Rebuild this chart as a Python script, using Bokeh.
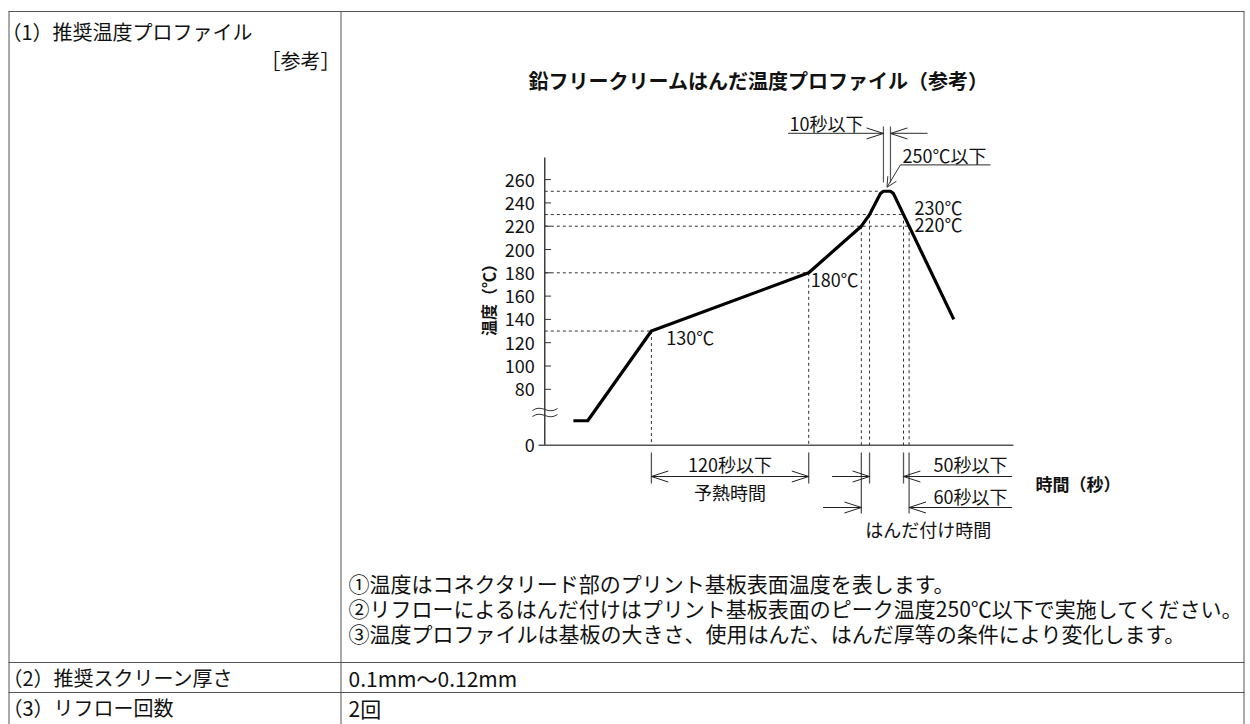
import numpy as np
from bokeh.plotting import figure
from bokeh.models import Range1d, Arrow, OpenHead
from bokeh.core.properties import value
from bokeh.embed import file_html
from bokeh.resources import INLINE

# ---------------- data ----------------
profile_time = [22, 33, 82, 203, 243.5, 249.8, 258.2, 260.5, 265.9, 268.2, 314.6]   # s (schematic)
profile_temp = [53, 53, 130, 180, 220, 230, 248, 250, 250, 248, 140]                # degC (start drawn below break)
y_tick_values = [80, 100, 120, 140, 160, 180, 200, 220, 240, 260]
y_tick_labels = [str(v) for v in y_tick_values]
axis_zero_pos = 32          # where "0" sits below the axis break
guide_temps = [130, 180, 220, 230, 250]
point_labels = ["130℃", "180℃", "230℃", "220℃"]
title_text = "鉛フリークリームはんだ温度プロファイル（参考）"
notes = ["①温度はコネクタリード部のプリント基板表面温度を表します。",
         "②リフローによるはんだ付けはプリント基板表面のピーク温度250℃以下で実施してください。",
         "③温度プロファイルは基板の大きさ、使用はんだ、はんだ厚等の条件により変化します。"]
row_heads = ["（1）推奨温度プロファイル", "（2）推奨スクリーン厚さ", "（3）リフロー回数"]
row_values = ["0.1mm～0.12mm", "2回"]
dim_labels = ["120秒以下", "予熱時間", "50秒以下", "60秒以下", "はんだ付け時間", "10秒以下", "250℃以下"]

# key times derived from the profile
t130, t180 = profile_time[2], profile_time[3]
t220_up, t230_up = profile_time[4], profile_time[5]
desc_T = [profile_temp[-1], profile_temp[-2]]
desc_t = [profile_time[-1], profile_time[-2]]
t230_dn = float(np.interp(230, desc_T, desc_t))
t220_dn = float(np.interp(220, desc_T, desc_t))
t250_l, t250_r = profile_time[7], profile_time[8]
guide_ends = [t130, t180, t220_dn, t230_dn, profile_time[6]]

# ---------------- figure ----------------
W, H = 1250, 724
FONT = "Noto Sans CJK JP"
p = figure(width=W, height=H, x_range=Range1d(0, W), y_range=Range1d(H, 0),
           output_backend="svg", toolbar_location=None, min_border=0,
           x_axis_location=None, y_axis_location=None)
p.grid.visible = False
p.outline_line_color = None
p.background_fill_color = "white"

PX_S, PX_C = 1.3, 1.165
ox, oy180 = 544.3, 272.3
p.extra_x_ranges = {"t": Range1d(-ox / PX_S, (W - ox) / PX_S)}
p.extra_y_ranges = {"T": Range1d(180 - (H - oy180) / PX_C, 180 + oy180 / PX_C)}

def txt(x, y, s, size="18px", align="left", bold=False, xr="default", yr="default",
        angle=0, baseline="middle", color="#111111"):
    p.text(x=[x], y=[y], text=[s], text_font=value(FONT), text_font_size=size,
           text_align=align, text_baseline=baseline,
           text_font_style="bold" if bold else "normal",
           x_range_name=xr, y_range_name=yr, angle=angle, text_color=color)

# ---------------- table ----------------
TL = "#555555"
p.segment(x0=[8, 8.5, 1243.5, 340.5, 8, 8], y0=[11, 11, 11, 11, 662, 692],
          x1=[1244, 8.5, 1243.5, 340.5, 1244, 1244], y1=[11, 724, 724, 724, 662, 692],
          line_color=TL, line_width=1)
txt(1, 31, row_heads[0], "20px")
txt(340, 60, "［参考］", "20px", align="right")
txt(758, 80, title_text, "20px", align="center", bold=True)
for i, n in enumerate(notes):
    txt(348, 582 + 25 * i, n, "21px")
txt(2, 677, row_heads[1], "20px")
txt(348, 677, row_values[0], "21px")
txt(2, 707, row_heads[2], "20px")
txt(348, 707, row_values[1], "21px")

# ---------------- chart axes ----------------
p.segment(x0=[0], y0=[axis_zero_pos], x1=[0], y1=[279], line_color="#111111", line_width=1.2,
          x_range_name="t", y_range_name="T")
p.segment(x0=[-4.8], y0=[axis_zero_pos], x1=[360.5], y1=[axis_zero_pos], line_color="#555555",
          line_width=1.4, x_range_name="t", y_range_name="T")
p.segment(x0=[0] * len(y_tick_values), y0=y_tick_values, x1=[4.8] * len(y_tick_values),
          y1=y_tick_values, line_color="#333333", line_width=1, x_range_name="t", y_range_name="T")
p.text(x=[-7.7] * (len(y_tick_values) + 1), y=y_tick_values + [axis_zero_pos],
       text=y_tick_labels + ["0"], text_font=value(FONT), text_font_size="18px",
       text_align="right", text_baseline="middle", text_color="#111111",
       x_range_name="t", y_range_name="T")
# axis break mark
for yy in [409, 415]:
    p.bezier(x0=[-9.5], y0=[yy + 1], x1=[9.8], y1=[yy - 1], cx0=[-2], cy0=[yy - 6],
             cx1=[2], cy1=[yy + 6], line_color="#333333", line_width=1,
             x_range_name="t")
txt(-44, 160, "温度（℃）", "16px", bold=True, xr="t", yr="T", angle=np.pi / 2, align="center")
txt(377.5, 482.5, "時間（秒）", "17px", bold=True, xr="t")

# ---------------- dashed guides ----------------
p.segment(x0=[0] * len(guide_temps), y0=guide_temps, x1=guide_ends, y1=guide_temps,
          line_color="#333333", line_width=1, line_dash="3 3", x_range_name="t", y_range_name="T")
vt = [t130, t180, t220_up, t230_up, t230_dn, t220_dn]
vT = [130, 180, 220, 230, 230, 220]
p.segment(x0=vt, y0=vT, x1=vt, y1=[axis_zero_pos] * len(vt), line_color="#333333",
          line_width=1, line_dash="3 3", x_range_name="t", y_range_name="T")

# ---------------- profile ----------------
p.line(profile_time, profile_temp, line_color="#000000", line_width=3.2, line_join="round",
       x_range_name="t", y_range_name="T")

# ---------------- dimension marks ----------------
DL = "#222222"
AH_T, AH_Y = 13.0, 5.5   # arrowhead length (time units) and half-spread (px)

def head(t_tip, y, direction, yr="default", dy=AH_Y):
    # direction +1: pointing right (arms to the left); -1: pointing left
    p.segment(x0=[t_tip, t_tip], y0=[y, y], x1=[t_tip - direction * AH_T] * 2,
              y1=[y - dy, y + dy], line_color=DL, line_width=1, x_range_name="t", y_range_name=yr)

# extension lines below axis
p.segment(x0=[t130, t180, t230_up, t230_dn, t220_up, t220_dn],
          y0=[452] * 6, x1=[t130, t180, t230_up, t230_dn, t220_up, t220_dn],
          y1=[483, 483, 483, 483, 513, 513], line_color="#555555", line_width=1.3, x_range_name="t")
# 120 s preheat
p.segment(x0=[t130], y0=[476], x1=[t180], y1=[476], line_color=DL, line_width=1, x_range_name="t")
head(t130, 476, -1)
head(t180, 476, 1)
txt((t130 + t180) / 2, 463, dim_labels[0], align="center", xr="t")
txt((t130 + t180) / 2, 491, dim_labels[1], align="center", xr="t")
# 50 s and 60 s
p.segment(x0=[221, t230_dn, 214, t220_dn], y0=[476, 476, 507, 507],
          x1=[t230_up, 359.5, t220_up, 359.5], y1=[476, 476, 507, 507],
          line_color=DL, line_width=1, x_range_name="t")
head(t230_up, 476, 1); head(t230_dn, 476, -1)
head(t220_up, 507, 1); head(t220_dn, 507, -1)
txt(356, 463, dim_labels[2], align="right", xr="t")
txt(356, 495, dim_labels[3], align="right", xr="t")
txt(295, 528, dim_labels[4], align="center", xr="t")

# 10 s at the peak
p.segment(x0=[t250_l, t250_r], y0=[305.6, 305.6], x1=[t250_l, t250_r], y1=[257.5, 257.5],
          line_color="#555555", line_width=1.2, x_range_name="t", y_range_name="T")
p.segment(x0=[187.2, t250_r], y0=[299.6, 299.6], x1=[t250_l, 294.4], y1=[299.6, 299.6],
          line_color="#555555", line_width=1.2, x_range_name="t", y_range_name="T")
head(t250_l, 299.6, 1, yr="T", dy=AH_Y / PX_C)
head(t250_r, 299.6, -1, yr="T", dy=AH_Y / PX_C)
txt(216.7, 308.2, dim_labels[5], align="center", xr="t", yr="T")

# 250 C max leader
peak_t = (t250_l + t250_r) / 2
p.segment(x0=[273.6], y0=[272.7], x1=[342.8], y1=[272.7], line_color="#555555", line_width=1.2,
          x_range_name="t", y_range_name="T")
p.add_layout(Arrow(x_start=273.6, y_start=272.7, x_end=peak_t, y_end=253.4,
                   line_color="#333333", line_width=1,
                   end=OpenHead(size=10, line_width=1, line_color="#333333"),
                   x_range_name="t", y_range_name="T"))
txt(275.1, 280.7, dim_labels[6], xr="t", yr="T")

# temperature point labels
txt(t130 + 11.5, 124.5, point_labels[0], xr="t", yr="T")
txt(t180 + 1.5, 175.1, point_labels[1], xr="t", yr="T")
txt(284.4, 236.3, point_labels[2], xr="t", yr="T")
txt(284.4, 222.0, point_labels[3], xr="t", yr="T")

open("out.html", "w").write(file_html(p, INLINE))
